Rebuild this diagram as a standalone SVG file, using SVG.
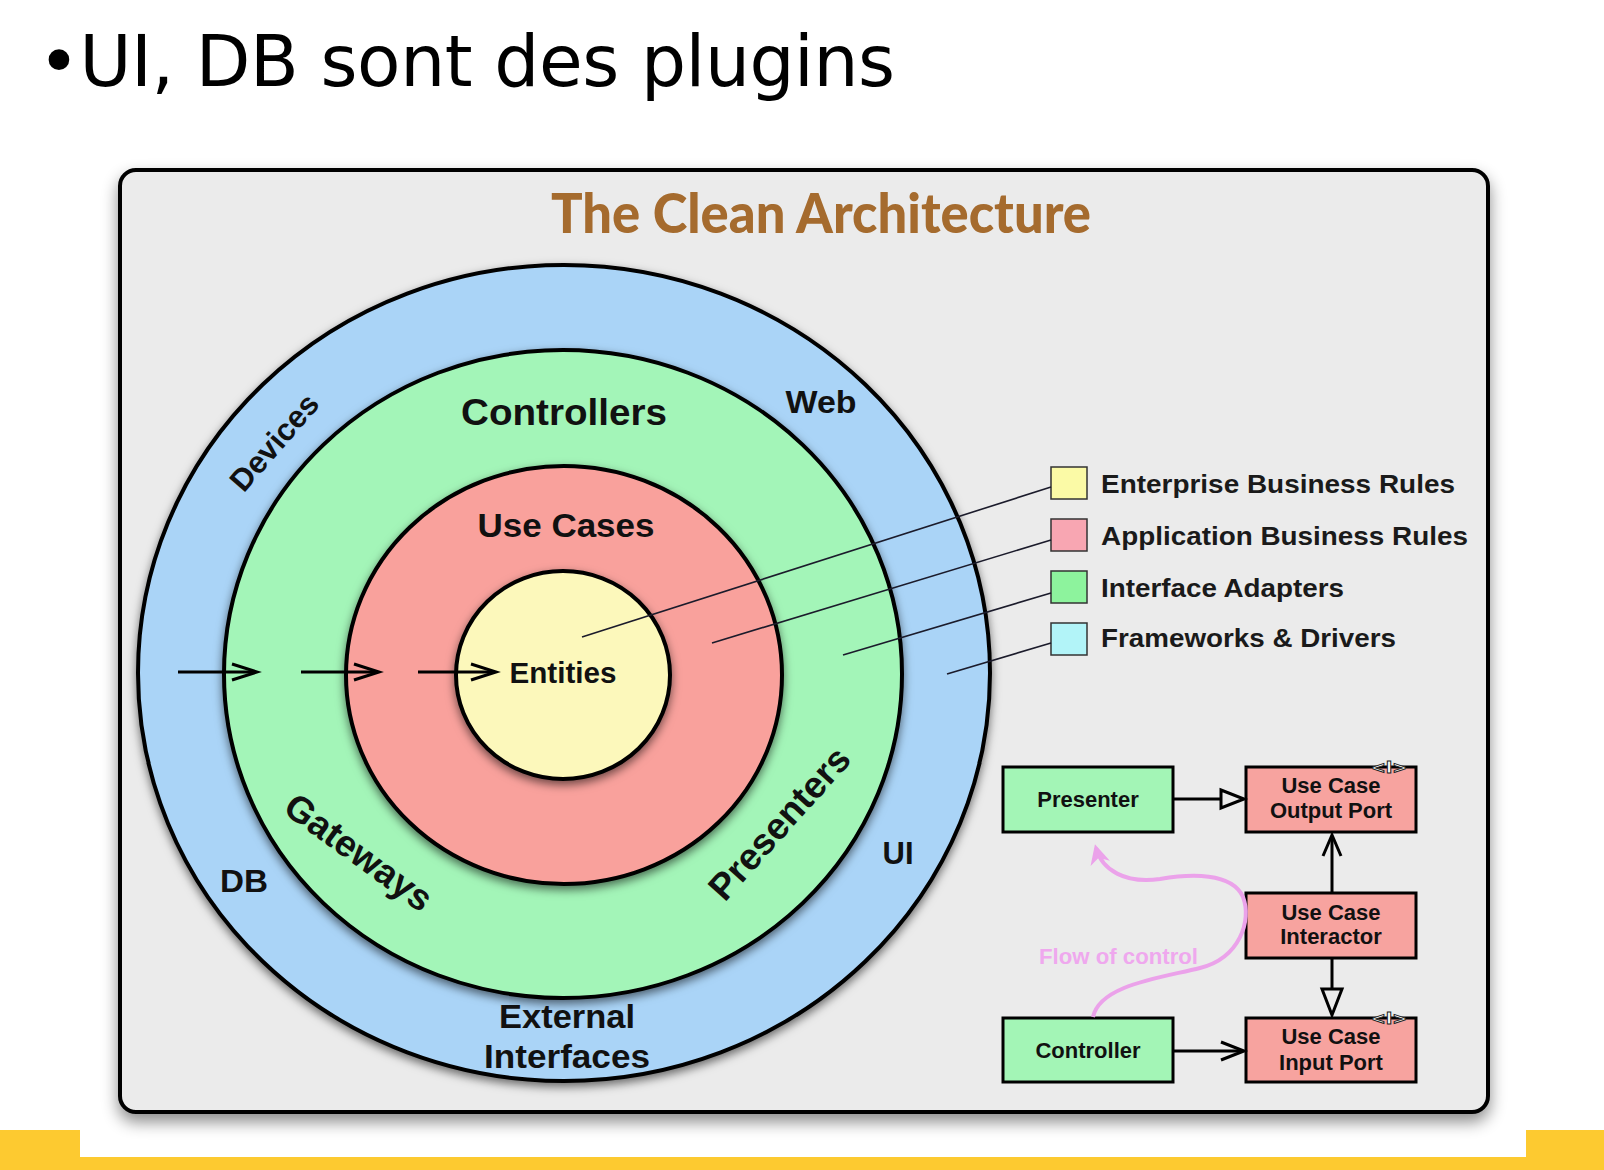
<svg xmlns="http://www.w3.org/2000/svg" width="1604" height="1170" viewBox="0 0 1604 1170">
  <defs>
    <filter id="boxShadow" x="-5%" y="-5%" width="110%" height="115%">
      <feDropShadow dx="0" dy="8" stdDeviation="8" flood-color="#000" flood-opacity="0.45"/>
    </filter>
    <filter id="ringShadow" x="-10%" y="-10%" width="120%" height="125%">
      <feDropShadow dx="0" dy="4" stdDeviation="5" flood-color="#000" flood-opacity="0.55"/>
    </filter>
    <marker id="pinkHead" viewBox="0 0 10 10" refX="8" refY="5" markerWidth="5" markerHeight="5" orient="auto" markerUnits="strokeWidth">
      <path d="M0,0 L10,5 L0,10 L3,5 Z" fill="#eba2ea"/>
    </marker>
    <style>
      .lbl { font-family: "Liberation Sans", Arial, sans-serif; font-weight: bold; fill: #111; }
      .ring { stroke: #000; stroke-width: 4; filter: url(#ringShadow); }
      .box { stroke: #000; stroke-width: 3; }
      .green { fill: #a3f5b6; }
      .pink { fill: #f7a39f; }
      .boxtxt { font-family: "Liberation Sans", Arial, sans-serif; font-weight: bold; font-size: 22px; fill: #111; text-anchor: middle; }
      .leg { font-family: "Liberation Sans", Arial, sans-serif; font-weight: bold; font-size: 26px; fill: #1a1a1a; }
      .sw { stroke: #333; stroke-width: 1.5; }
      .arrow { stroke: #000; stroke-width: 3; fill: none; }
      .legline { stroke: #1b1b2b; stroke-width: 1.6; fill: none; }
      .iface { font-family: "DejaVu Sans", sans-serif; font-weight: bold; font-size: 15px; fill: #fff; stroke: #222; stroke-width: 0.9; text-anchor: middle; }
    </style>
  </defs>

  <!-- page background -->
  <rect x="0" y="0" width="1604" height="1170" fill="#ffffff"/>
  <rect x="0" y="1130" width="1604" height="40" fill="#fdca30"/>
  <rect x="80" y="1130" width="1446" height="27" fill="#ffffff"/>

  <!-- header -->
  <text x="38" y="86" font-family="'DejaVu Sans', Verdana, sans-serif" font-size="71" fill="#000" textLength="857" lengthAdjust="spacing">•UI, DB sont des plugins</text>

  <!-- frame -->
  <g id="frame">
    <rect x="120" y="170" width="1368" height="942" rx="16" ry="16" fill="#ebebeb" stroke="#000" stroke-width="4" filter="url(#boxShadow)"/>
    <text x="821" y="233" text-anchor="middle" font-family="Lato, 'Open Sans', sans-serif" font-weight="900" font-size="56" fill="#a56b2e" textLength="540" lengthAdjust="spacingAndGlyphs">The Clean Architecture</text>
  </g>

  <!-- rings -->
  <g id="ring-frameworks">
    <ellipse class="ring" cx="564" cy="673" rx="426" ry="408" fill="#aad4f7"/>
    <text class="lbl" font-size="32" x="821" y="413" text-anchor="middle" textLength="71" lengthAdjust="spacingAndGlyphs">Web</text>
    <text class="lbl" font-size="31" x="898" y="864" text-anchor="middle" textLength="31" lengthAdjust="spacingAndGlyphs">UI</text>
    <text class="lbl" font-size="31" x="244" y="892" text-anchor="middle" textLength="48" lengthAdjust="spacingAndGlyphs">DB</text>
    <text class="lbl" font-size="31" text-anchor="middle" transform="translate(274,442) rotate(-49)" x="0" y="11">Devices</text>
    <text class="lbl" font-size="33" x="567" y="1028" text-anchor="middle" textLength="136" lengthAdjust="spacingAndGlyphs">External</text>
    <text class="lbl" font-size="33" x="567" y="1068" text-anchor="middle" textLength="166" lengthAdjust="spacingAndGlyphs">Interfaces</text>
  </g>

  <g id="ring-adapters">
    <ellipse class="ring" cx="563" cy="674" rx="339" ry="324" fill="#a3f5b8"/>
    <text class="lbl" font-size="37" x="564" y="425" text-anchor="middle" textLength="206" lengthAdjust="spacingAndGlyphs">Controllers</text>
    <text class="lbl" font-size="37" text-anchor="middle" transform="translate(359,852) rotate(36)" x="0" y="13">Gateways</text>
    <text class="lbl" font-size="37" text-anchor="middle" transform="translate(779,823) rotate(-48)" x="0" y="13">Presenters</text>
  </g>

  <g id="ring-usecases">
    <ellipse class="ring" cx="564" cy="675" rx="218" ry="209" fill="#f9a19c"/>
    <text class="lbl" font-size="34" x="566" y="537" text-anchor="middle" textLength="177" lengthAdjust="spacingAndGlyphs">Use Cases</text>
  </g>

  <g id="ring-entities">
    <ellipse class="ring" cx="563" cy="675" rx="107" ry="104" fill="#fcf8bb"/>
    <text class="lbl" font-size="29" x="563" y="683" text-anchor="middle" textLength="107" lengthAdjust="spacingAndGlyphs">Entities</text>
  </g>

  <!-- legend -->
  <g id="legend-enterprise">
    <rect class="sw" x="1051" y="467" width="36" height="32" fill="#fbfaa6"/>
    <text class="leg" x="1101" y="493" textLength="354" lengthAdjust="spacingAndGlyphs">Enterprise Business Rules</text>
  </g>
  <g id="legend-application">
    <rect class="sw" x="1051" y="519" width="36" height="32" fill="#f8a6b2"/>
    <text class="leg" x="1101" y="545" textLength="367" lengthAdjust="spacingAndGlyphs">Application Business Rules</text>
  </g>
  <g id="legend-adapters">
    <rect class="sw" x="1051" y="571" width="36" height="32" fill="#8df39d"/>
    <text class="leg" x="1101" y="597" textLength="243" lengthAdjust="spacingAndGlyphs">Interface Adapters</text>
  </g>
  <g id="legend-frameworks">
    <rect class="sw" x="1051" y="623" width="36" height="32" fill="#b2f4f8"/>
    <text class="leg" x="1101" y="647" textLength="295" lengthAdjust="spacingAndGlyphs">Frameworks &amp; Drivers</text>
  </g>

  <!-- small diagram nodes -->
  <g id="presenter">
    <rect class="box green" x="1003" y="767" width="170" height="65"/>
    <text class="boxtxt" x="1088" y="807">Presenter</text>
  </g>
  <g id="output-port">
    <rect class="box pink" x="1246" y="767" width="170" height="65"/>
    <text class="boxtxt" x="1331" y="793">Use Case</text>
    <text class="boxtxt" x="1331" y="818">Output Port</text>
    <text class="iface" x="1389" y="773" textLength="36" lengthAdjust="spacingAndGlyphs">&lt;I&gt;</text>
  </g>
  <g id="interactor">
    <rect class="box pink" x="1246" y="893" width="170" height="65"/>
    <text class="boxtxt" x="1331" y="920">Use Case</text>
    <text class="boxtxt" x="1331" y="944">Interactor</text>
  </g>
  <g id="controller">
    <rect class="box green" x="1003" y="1018" width="170" height="64"/>
    <text class="boxtxt" x="1088" y="1058">Controller</text>
  </g>
  <g id="input-port">
    <rect class="box pink" x="1246" y="1018" width="170" height="64"/>
    <text class="boxtxt" x="1331" y="1044">Use Case</text>
    <text class="boxtxt" x="1331" y="1070">Input Port</text>
    <text class="iface" x="1389" y="1024" textLength="36" lengthAdjust="spacingAndGlyphs">&lt;I&gt;</text>
  </g>

  <!-- connectors -->
  <g id="connectors">
    <!-- dependency arrows in rings -->
    <line class="arrow" x1="178" y1="672" x2="256" y2="672"/>
    <polyline class="arrow" points="232,664 257,672 232,680"/>
    <line class="arrow" x1="301" y1="672" x2="378" y2="672"/>
    <polyline class="arrow" points="354,664 379,672 354,680"/>
    <line class="arrow" x1="418" y1="672" x2="495" y2="672"/>
    <polyline class="arrow" points="471,664 496,672 471,680"/>

    <!-- legend leader lines -->
    <line class="legline" x1="1051" y1="487" x2="582" y2="637"/>
    <line class="legline" x1="1051" y1="540" x2="712" y2="643"/>
    <line class="legline" x1="1051" y1="593" x2="843" y2="655"/>
    <line class="legline" x1="1051" y1="643" x2="947" y2="674"/>

    <!-- Presenter -> Output Port (implements) -->
    <line class="arrow" x1="1173" y1="799" x2="1221" y2="799"/>
    <polygon class="arrow" points="1221,790 1244,799 1221,808" fill="#ebebeb"/>
    <!-- Interactor -> Output Port (uses) -->
    <line class="arrow" x1="1332" y1="893" x2="1332" y2="836"/>
    <polyline class="arrow" points="1323,856 1332,835 1341,856"/>
    <!-- Interactor -> Input Port (implements) -->
    <line class="arrow" x1="1332" y1="958" x2="1332" y2="989"/>
    <polygon class="arrow" points="1322,989 1342,989 1332,1015" fill="#ebebeb"/>
    <!-- Controller -> Input Port (uses) -->
    <line class="arrow" x1="1173" y1="1051" x2="1242" y2="1051"/>
    <polyline class="arrow" points="1221,1042 1244,1051 1221,1060"/>

    <!-- flow of control -->
    <path d="M1093,1017 C1100,985 1160,978 1200,968 C1240,958 1252,920 1243,897 C1232,872 1190,874 1160,879 C1125,884 1102,870 1096,848" fill="none" stroke="#eba2ea" stroke-width="4" marker-end="url(#pinkHead)"/>
    <text x="1039" y="964" font-family="'Liberation Sans', Arial, sans-serif" font-weight="bold" font-size="22" fill="#efa8ee" textLength="159" lengthAdjust="spacingAndGlyphs">Flow of control</text>
  </g>
</svg>
